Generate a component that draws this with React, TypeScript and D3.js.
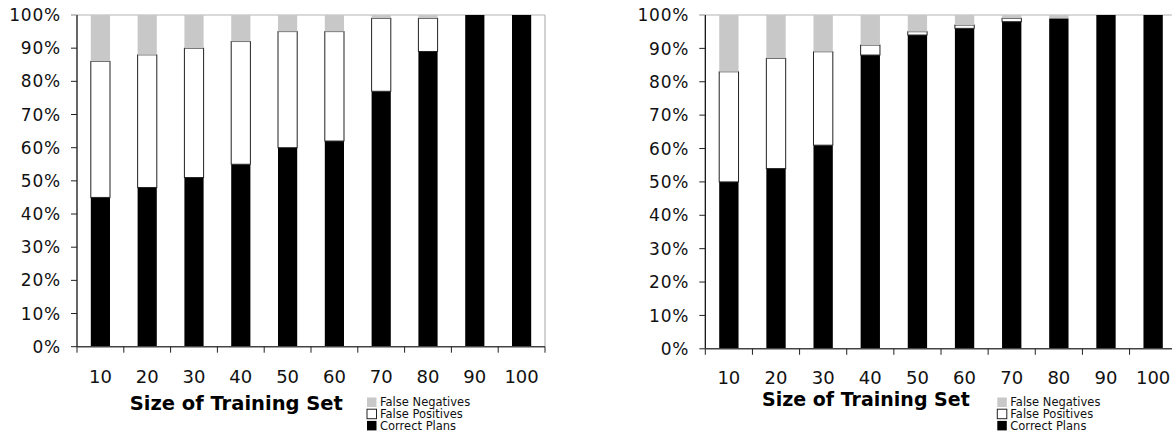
import React from "react";
import * as d3 from "d3";

const categories = ["10", "20", "30", "40", "50", "60", "70", "80", "90", "100"];
const leftCorrect = [45, 48, 51, 55, 60, 62, 77, 89, 100, 100];
const leftFalsePos = [41, 40, 39, 37, 35, 33, 22, 10, 0, 0];
const leftFalseNeg = [14, 12, 10, 8, 5, 5, 1, 1, 0, 0];
const rightCorrect = [50, 54, 61, 88, 94, 96, 98, 99, 100, 100];
const rightFalsePos = [33, 33, 28, 3, 1, 1, 1, 0, 0, 0];
const rightFalseNeg = [17, 13, 11, 9, 5, 3, 1, 1, 0, 0];
const yTicks = [0, 10, 20, 30, 40, 50, 60, 70, 80, 90, 100];
const seriesKeys = ["correct", "fp", "fn"];
const legendNames = ["False Negatives", "False Positives", "Correct Plans"];
const xTitle = "Size of Training Set";

const FONT = "'DejaVu Sans', Verdana, sans-serif";
const fills: Record<string, string> = { correct: "#000000", fp: "#ffffff", fn: "#c8c8c8" };
const legendKeys = ["fn", "fp", "correct"];

type PanelProps = {
  correct: number[];
  fp: number[];
  fn: number[];
  x0: number;
  x1: number;
  yTop: number;
  yBot: number;
  titleX: number;
  titleY: number;
  titleSize: number;
  xLabelY: number;
  legendX: number;
};

function Panel(p: PanelProps) {
  const rows = categories.map((c, i) => ({ cat: c, correct: p.correct[i], fp: p.fp[i], fn: p.fn[i] }));
  const stack = d3.stack<any>().keys(seriesKeys)(rows);
  const x = d3.scaleBand<string>().domain(categories).range([p.x0, p.x1]).paddingInner(0).paddingOuter(0);
  const y = d3.scaleLinear().domain([0, 100]).range([p.yBot, p.yTop]);
  const bw = x.bandwidth() * 0.41;
  const tickEdges = d3.range(categories.length + 1).map((i) => p.x0 + i * x.step());

  return (
    <g>
      {/* plot border top & right */}
      <line x1={p.x0} x2={p.x1} y1={p.yTop} y2={p.yTop} stroke="#b4b4b4" strokeWidth={1.2} />
      <line x1={p.x1} x2={p.x1} y1={p.yTop} y2={p.yBot} stroke="#b4b4b4" strokeWidth={1.2} />
      {stack.map((layer) => (
        <g key={layer.key}>
          {layer.map((d: any, i: number) => {
            const h = y(d[0]) - y(d[1]);
            if (h <= 0) return null;
            const cx = (x(categories[i]) as number) + x.bandwidth() / 2;
            return (
              <rect
                key={i}
                x={cx - bw / 2}
                y={y(d[1])}
                width={bw}
                height={h}
                fill={fills[layer.key]}
                stroke={layer.key === "fp" ? "#222" : "none"}
                strokeWidth={layer.key === "fp" ? 1 : 0}
              />
            );
          })}
        </g>
      ))}
      {/* y axis */}
      <line x1={p.x0} x2={p.x0} y1={p.yTop} y2={p.yBot} stroke="#000" strokeWidth={1.2} />
      {yTicks.map((t) => (
        <g key={t}>
          <line x1={p.x0 - 6} x2={p.x0} y1={y(t)} y2={y(t)} stroke={t === 100 ? "#888" : "#222"} strokeWidth={1} />
          <text
            x={p.x0 - 16}
            y={y(t)}
            dy="0.36em"
            textAnchor="end"
            fontFamily={FONT}
            fontSize={17}
            letterSpacing={0.8}
            fill="#111"
          >
            {t + "%"}
          </text>
        </g>
      ))}
      {/* x axis */}
      <line x1={p.x0} x2={p.x1} y1={p.yBot} y2={p.yBot} stroke="#444" strokeWidth={1.5} />
      {tickEdges.map((tx, i) => (
        <line key={i} x1={tx} x2={tx} y1={p.yBot} y2={p.yBot + 6} stroke="#222" strokeWidth={1} />
      ))}
      {categories.map((c) => (
        <text
          key={c}
          x={(x(c) as number) + x.bandwidth() / 2}
          y={p.xLabelY}
          textAnchor="middle"
          fontFamily={FONT}
          fontSize={18}
          fill="#111"
        >
          {c}
        </text>
      ))}
      <text
        x={p.titleX}
        y={p.titleY}
        textAnchor="middle"
        fontFamily={FONT}
        fontWeight="bold"
        fontSize={p.titleSize}
        fill="#000"
      >
        {xTitle}
      </text>
      {legendKeys.map((k, i) => (
        <g key={k}>
          <rect
            x={p.legendX}
            y={397.5 + i * 11.7}
            width={9.5}
            height={9.5}
            fill={fills[k]}
            stroke={k === "fp" ? "#222" : "none"}
            strokeWidth={1}
          />
          <text x={p.legendX + 13} y={406.3 + i * 11.7} fontFamily={FONT} fontSize={11.5} fill="#111">
            {legendNames[i]}
          </text>
        </g>
      ))}
    </g>
  );
}

export default function App() {
  return (
    <svg
      width={1172}
      height={437}
      style={{ position: "absolute", left: 0, top: 0, background: "#fff" }}
    >
      <rect x={0} y={0} width={1172} height={437} fill="#fff" />
      <Panel
        correct={leftCorrect}
        fp={leftFalsePos}
        fn={leftFalseNeg}
        x0={77}
        x1={545}
        yTop={15}
        yBot={346.7}
        titleX={236.3}
        titleY={410}
        titleSize={19.5}
        xLabelY={382.5}
        legendX={367}
      />
      <Panel
        correct={rightCorrect}
        fp={rightFalsePos}
        fn={rightFalseNeg}
        x0={705.3}
        x1={1176.7}
        yTop={15}
        yBot={348.8}
        titleX={865.9}
        titleY={406}
        titleSize={19}
        xLabelY={383.5}
        legendX={997.3}
      />
    </svg>
  );
}
